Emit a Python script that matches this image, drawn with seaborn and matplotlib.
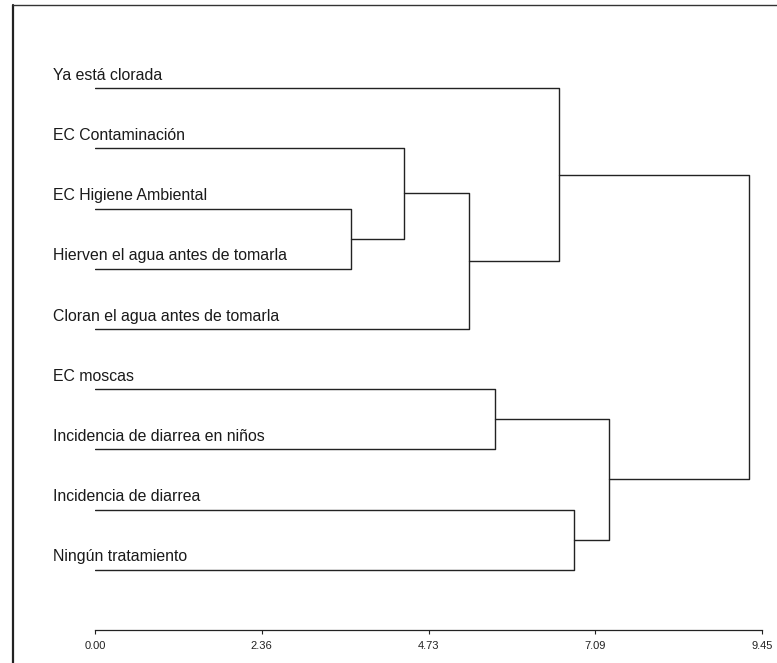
import pandas as pd
import seaborn as sns
import matplotlib.pyplot as plt
from matplotlib.lines import Line2D

# leaf labels, top to bottom
leaves = [
    "Ya está clorada",
    "EC Contaminación",
    "EC Higiene Ambiental",
    "Hierven el agua antes de tomarla",
    "Cloran el agua antes de tomarla",
    "EC moscas",
    "Incidencia de diarrea en niños",
    "Incidencia de diarrea",
    "Ningún tratamiento",
]

# merges: children are leaf indices (< 9) or cluster ids (9 + merge index)
merge_left = [2, 1, 10, 0, 5, 7, 13, 12]
merge_right = [3, 9, 4, 11, 6, 8, 14, 15]
merge_height = [3.63, 4.38, 5.30, 6.58, 5.67, 6.78, 7.28, 9.27]

tick_values = [0.00, 2.36, 4.73, 7.09, 9.45]
tick_labels = ["0.00", "2.36", "4.73", "7.09", "9.45"]


def build_links():
    n = len(leaves)
    pos = {i: float(i) for i in range(n)}
    height = {i: 0.0 for i in range(n)}
    rows = []
    for k, (a, b, h) in enumerate(zip(merge_left, merge_right, merge_height)):
        pts = [(height[a], pos[a]), (h, pos[a]), (h, pos[b]), (height[b], pos[b])]
        for j, (x, y) in enumerate(pts):
            rows.append({"link": k, "step": j, "x": x, "y": y})
        cid = n + k
        pos[cid] = (pos[a] + pos[b]) / 2
        height[cid] = h
    return pd.DataFrame(rows)


def main():
    sns.set_style("white")
    plt.rcParams["font.family"] = ["Liberation Sans", "DejaVu Sans"]

    W, H = 777, 663
    fig = plt.figure(figsize=(W / 100, H / 100), dpi=100)

    # scanned page frame (left and top edges)
    fig.add_artist(Line2D([13 / W, 13 / W], [0, 1 - 5 / H], transform=fig.transFigure,
                          color="#222222", lw=1.6))
    fig.add_artist(Line2D([13 / W, 1], [1 - 5 / H, 1 - 5 / H], transform=fig.transFigure,
                          color="#333333", lw=1.0))

    ax = fig.add_axes([95 / W, (H - 630) / H, 667 / W, 590 / H])

    df = build_links()
    sns.lineplot(data=df, x="x", y="y", units="link", estimator=None, sort=False,
                 color="#222222", linewidth=1.0, ax=ax, legend=False)

    ax.set_xlim(0, 9.45)
    ax.set_ylim(9.0, 9.0 - 590 / 60.21)

    for i, name in enumerate(leaves):
        ax.text(-0.6, i - 0.215, name, ha="left", va="center", fontsize=11.4,
                color="#1a1a1a", clip_on=False)

    ax.set_xticks(tick_values)
    ax.set_xticklabels(tick_labels)
    ax.set_yticks([])
    ax.set_xlabel("")
    ax.set_ylabel("")
    ax.tick_params(axis="x", direction="out", length=3, width=0.8, labelsize=8,
                   pad=5, colors="#222222", bottom=True)
    sns.despine(ax=ax, left=True, top=True, right=True)
    ax.spines["bottom"].set_color("#222222")
    ax.spines["bottom"].set_linewidth(0.9)

    fig.savefig("out.png", dpi=100)
    plt.close(fig)


if __name__ == "__main__":
    main()
